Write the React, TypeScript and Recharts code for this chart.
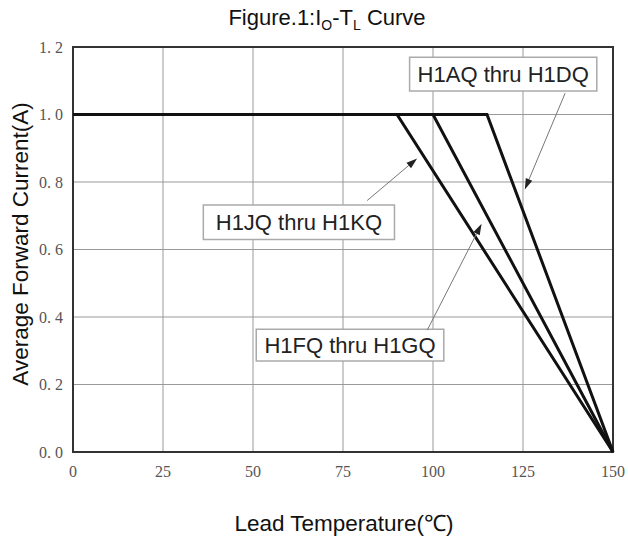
import {
  CartesianGrid,
  Line,
  LineChart,
  ReferenceArea,
  ReferenceLine,
  XAxis,
  YAxis,
} from "recharts";

// derating curves: flat at rated current until the knee, then linear to 0 A at 150 °C
const jkTemps = [0, 90, 150];
const jkCurrent = [1.0, 1.0, 0.0];
const fgTemps = [0, 100, 150];
const fgCurrent = [1.0, 1.0, 0.0];
const adTemps = [0, 115, 150];
const adCurrent = [1.0, 1.0, 0.0];

const xTicks = [0, 25, 50, 75, 100, 125, 150];
const yTicks = [0, 0.2, 0.4, 0.6, 0.8, 1.0, 1.2];

const toPoints = (t: number[], i: number[]) => t.map((v, k) => ({ t: v, i: i[k] }));

// callout boxes + arrows (data space)
const callouts = [
  { text: "H1AQ thru H1DQ", box: [93.5, 145.5, 1.07, 1.17], arrow: [136.7, 1.063, 125.5, 0.778] },
  { text: "H1JQ thru H1KQ", box: [36.2, 89.3, 0.63, 0.732], arrow: [81.7, 0.745, 95.6, 0.87] },
  { text: "H1FQ thru H1GQ", box: [50.9, 103.0, 0.27, 0.364], arrow: [98.4, 0.361, 113.5, 0.676] },
];

const Arrow = (p: any) => {
  const { x1, y1, x2, y2 } = p;
  if ([x1, y1, x2, y2].some((v) => typeof v !== "number")) return null;
  const a = Math.atan2(y2 - y1, x2 - x1);
  const len = 11;
  const w = 3.5;
  const bx = x2 - len * Math.cos(a);
  const by = y2 - len * Math.sin(a);
  const nx = -Math.sin(a) * w;
  const ny = Math.cos(a) * w;
  return (
    <g>
      <line x1={x1} y1={y1} x2={bx} y2={by} stroke="#777" strokeWidth={1} />
      <polygon points={`${x2},${y2} ${bx + nx},${by + ny} ${bx - nx},${by - ny}`} fill="#222" />
    </g>
  );
};

const sans = "'Liberation Sans', Arial, sans-serif";
const serif = "'Liberation Serif', 'DejaVu Serif', serif";

export default function App() {
  return (
    <div style={{ position: "absolute", left: 0, top: 0, width: 628, height: 543, background: "#fff" }}>
      <div
        style={{
          position: "absolute",
          left: 0,
          width: 654,
          top: 5,
          lineHeight: "26px",
          textAlign: "center",
          fontFamily: sans,
          fontSize: 22,
          color: "#111",
        }}
      >
        Figure.1:I<sub style={{ fontSize: 14, lineHeight: 0 }}>O</sub>-T<sub style={{ fontSize: 14, lineHeight: 0 }}>L</sub> Curve
      </div>
      <div
        style={{
          position: "absolute",
          left: 21,
          top: 244,
          transform: "translate(-50%, -50%) rotate(-90deg)",
          whiteSpace: "nowrap",
          lineHeight: "26px",
          fontFamily: sans,
          fontSize: 22.5,
          color: "#111",
        }}
      >
        Average Forward Current(A)
      </div>
      <div
        style={{
          position: "absolute",
          left: 0,
          width: 688,
          top: 511,
          lineHeight: "26px",
          textAlign: "center",
          fontFamily: sans,
          fontSize: 22.5,
          color: "#111",
        }}
      >
        Lead Temperature(℃)
      </div>
      <LineChart
        width={628}
        height={543}
        margin={{ top: 47, right: 15, bottom: 61, left: 33 }}
        style={{ position: "absolute", left: 0, top: 0 }}
      >
        <CartesianGrid stroke="#999" strokeWidth={1} />
        <XAxis
          type="number"
          dataKey="t"
          domain={[0, 150]}
          ticks={xTicks}
          interval={0}
          height={30}
          tickLine={false}
          axisLine={false}
          tickSize={0}
          tickMargin={14}
          tick={{ fill: "#555", fontSize: 16, fontFamily: serif }}
        />
        <YAxis
          type="number"
          domain={[0, 1.2]}
          ticks={yTicks}
          interval={0}
          width={40}
          tickLine={false}
          axisLine={false}
          tickSize={0}
          tickMargin={10}
          tickFormatter={(v: number) => v.toFixed(1).replace(".", ". ")}
          tick={{ fill: "#555", fontSize: 16, fontFamily: serif }}
        />
        <ReferenceArea x1={0} x2={150} y1={0} y2={1.2} fill="none" stroke="#333" strokeWidth={2} />
        <Line data={toPoints(jkTemps, jkCurrent)} dataKey="i" type="linear" stroke="#111" strokeWidth={3} dot={false} isAnimationActive={false} />
        <Line data={toPoints(fgTemps, fgCurrent)} dataKey="i" type="linear" stroke="#111" strokeWidth={3} dot={false} isAnimationActive={false} />
        <Line data={toPoints(adTemps, adCurrent)} dataKey="i" type="linear" stroke="#111" strokeWidth={3} dot={false} isAnimationActive={false} />
        {callouts.map((c) => (
          <ReferenceLine
            key={c.text + "-arrow"}
            segment={[
              { x: c.arrow[0], y: c.arrow[1] },
              { x: c.arrow[2], y: c.arrow[3] },
            ]}
            shape={Arrow}
          />
        ))}
        {callouts.map((c) => (
          <ReferenceArea
            key={c.text}
            x1={c.box[0]}
            x2={c.box[1]}
            y1={c.box[2]}
            y2={c.box[3]}
            fill="#fff"
            fillOpacity={1}
            stroke="#aaa"
            strokeWidth={1.5}
            label={{ value: c.text, position: "center", fill: "#222", fontSize: 22, fontFamily: sans }}
          />
        ))}
      </LineChart>
    </div>
  );
}
